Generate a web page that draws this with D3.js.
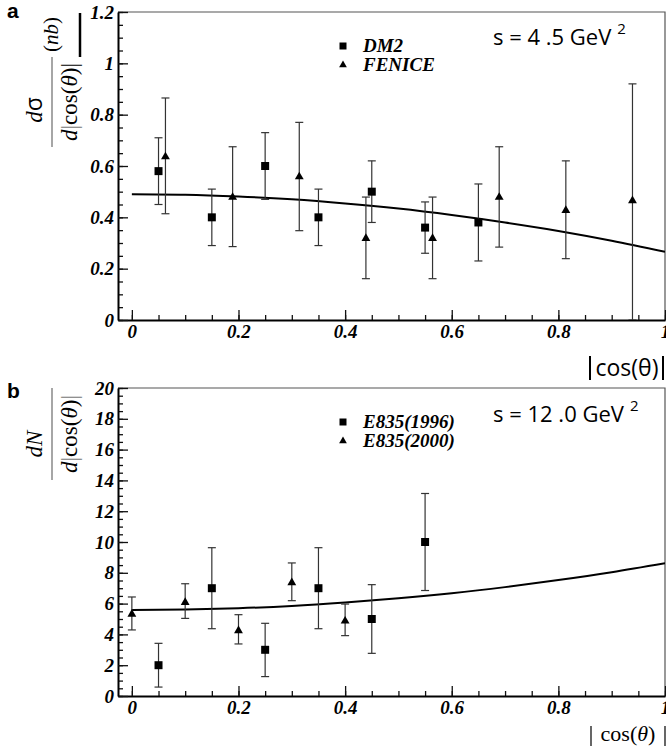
<!DOCTYPE html>
<html><head><meta charset="utf-8">
<script src="https://cdn.jsdelivr.net/npm/d3@7"></script>
<style>
body{margin:0;background:#fff}
.tick text{font-family:"Liberation Serif",serif;font-weight:bold;font-style:italic;font-size:19px;fill:#000}
.leg{font-family:"Liberation Serif",serif;font-weight:bold;font-style:italic;font-size:19px}
.sans{font-family:"Open Sans","Noto Sans",sans-serif}
.serif{font-family:"Liberation Serif",serif}
</style></head><body><div id="chart"></div>
<script>
// shared x axis
var xTicks=[0,0.2,0.4,0.6,0.8,1];
var xTickLabels=['0','0.2','0.4','0.6','0.8','1'];

// panel a : s = 4.5 GeV^2
var yTicksA=[0,0.2,0.4,0.6,0.8,1,1.2];
var yTickLabelsA=['0','0.2','0.4','0.6','0.8','1','1.2'];
var dm2X=[0.05,0.15,0.25,0.35,0.45,0.55,0.65];
var dm2Y=[0.58,0.40,0.60,0.40,0.50,0.36,0.38];
var dm2Lo=[0.45,0.29,0.47,0.29,0.38,0.26,0.23];
var dm2Hi=[0.71,0.51,0.73,0.51,0.62,0.46,0.53];
var fenX=[0.063,0.189,0.314,0.439,0.564,0.689,0.814,0.939];
var fenY=[0.636,0.478,0.558,0.318,0.318,0.478,0.427,0.465];
var fenLo=[0.414,0.286,0.348,0.161,0.161,0.284,0.239,0.0];
var fenHi=[0.865,0.675,0.770,0.479,0.479,0.675,0.620,0.920];
var fitAX=[0,0.1,0.2,0.3,0.4,0.5,0.6,0.7,0.8,0.9,1.0];
var fitAY=[0.490,0.488,0.481,0.470,0.454,0.434,0.409,0.380,0.347,0.309,0.266];

// panel b : s = 12.0 GeV^2
var yTicksB=[0,2,4,6,8,10,12,14,16,18,20];
var yTickLabelsB=['0','2','4','6','8','10','12','14','16','18','20'];
var e96X=[0.05,0.15,0.25,0.35,0.45,0.55];
var e96Y=[2.0,7.0,3.0,7.0,5.0,10.0];
var e96Lo=[0.58,4.37,1.26,4.37,2.77,6.85];
var e96Hi=[3.42,9.63,4.72,9.63,7.23,13.15];
var e00X=[0.0,0.1,0.2,0.3,0.4];
var e00Y=[5.32,6.08,4.24,7.36,4.87];
var e00Lo=[4.29,5.04,3.38,6.19,3.92];
var e00Hi=[6.43,7.29,5.28,8.64,5.97];
var fitBX=[0,0.1,0.2,0.3,0.4,0.5,0.6,0.7,0.8,0.9,1.0];
var fitBY=[5.58,5.61,5.70,5.85,6.07,6.34,6.67,7.07,7.53,8.04,8.62];

var svg=d3.select('#chart').append('svg').attr('width',666).attr('height',747);
var x=d3.scaleLinear().domain([-0.026,1]).range([118,665]);

function panel(o){
  var y=d3.scaleLinear().domain([0,o.yMax]).range([o.bottom,o.top]);
  var g=svg.append('g');
  svg.append('clipPath').attr('id','clip'+o.id).append('rect')
    .attr('x',118).attr('y',o.top).attr('width',547).attr('height',o.bottom-o.top);

  // frame top and right
  g.append('path').attr('d','M118,'+o.top+'H665V'+o.bottom)
    .attr('fill','none').attr('stroke','#555').attr('stroke-width',1.2);

  // x axis: minor then major
  g.append('g').attr('transform','translate(0,'+o.bottom+')')
    .call(d3.axisBottom(x).tickValues(d3.range(0,1.001,0.05)).tickSize(-5).tickSizeOuter(0).tickFormat(''));
  var xa=g.append('g').attr('transform','translate(0,'+o.bottom+')')
    .call(d3.axisBottom(x).tickValues(xTicks).tickSize(-10).tickSizeOuter(0).tickPadding(5)
      .tickFormat((d,i)=>xTickLabels[i]));
  xa.select('.domain').attr('stroke-width',2);

  // y axis
  g.append('g').attr('transform','translate(118,0)')
    .call(d3.axisLeft(y).tickValues(d3.range(0,o.yMax+1e-6,o.yMinor)).tickSize(-5).tickSizeOuter(0).tickFormat(''));
  var ya=g.append('g').attr('transform','translate(118,0)')
    .call(d3.axisLeft(y).tickValues(o.yTicks).tickSize(-10).tickSizeOuter(0).tickPadding(4)
      .tickFormat((d,i)=>o.yLabels[i]));
  ya.select('.domain').attr('stroke-width',2);
  g.selectAll('.tick line').attr('stroke','#111').attr('stroke-width',1.3);

  var plot=g.append('g').attr('clip-path','url(#clip'+o.id+')');

  // fit curve
  plot.append('path').datum(d3.zip(o.fitX,o.fitY))
    .attr('d',d3.line().x(d=>x(d[0])).y(d=>y(d[1])).curve(d3.curveMonotoneX))
    .attr('fill','none').attr('stroke','#000').attr('stroke-width',2);

  // error bars and markers
  o.series.forEach(function(s){
    var pts=s.x.map((v,i)=>({x:v,y:s.y[i],lo:s.lo[i],hi:s.hi[i]}));
    var pg=plot.selectAll(null).data(pts).enter().append('g');
    pg.append('line').attr('x1',d=>x(d.x)).attr('x2',d=>x(d.x))
      .attr('y1',d=>y(d.lo)).attr('y2',d=>y(d.hi)).attr('stroke','#333').attr('stroke-width',1.2);
    pg.append('line').attr('x1',d=>x(d.x)-4).attr('x2',d=>x(d.x)+4)
      .attr('y1',d=>y(d.hi)).attr('y2',d=>y(d.hi)).attr('stroke','#333').attr('stroke-width',1.2);
    pg.append('line').attr('x1',d=>x(d.x)-4).attr('x2',d=>x(d.x)+4)
      .attr('y1',d=>y(d.lo)).attr('y2',d=>y(d.lo)).attr('stroke','#333').attr('stroke-width',1.2);
    pg.append('path').attr('transform',d=>'translate('+x(d.x)+','+y(d.y)+')')
      .attr('d',d3.symbol().type(s.shape=='sq'?d3.symbolSquare:d3.symbolTriangle).size(s.shape=='sq'?64:34)())
      .attr('fill','#000');
  });

  // legend
  o.series.forEach(function(s,i){
    var ly=o.legY+i*19;
    g.append('path').attr('transform','translate(343,'+(ly-(s.shape=='sq'?6:6))+')')
      .attr('d',d3.symbol().type(s.shape=='sq'?d3.symbolSquare:d3.symbolTriangle).size(s.shape=='sq'?49:26)())
      .attr('fill','#000');
    g.append('text').attr('class','leg').attr('x',363).attr('y',ly).text(s.name);
  });

  // energy
  var et=g.append('text').attr('class','sans').attr('x',493).attr('y',o.sY)
    .attr('font-size',22).attr('xml:space','preserve').text(o.sText);
  et.append('tspan').attr('dx',6).attr('dy',-11).attr('font-size',15).text('2');

  // panel letter
  g.append('text').attr('x',7).attr('y',o.letterY).attr('font-family','Liberation Sans, Arial, sans-serif')
    .attr('font-weight','bold').attr('font-size',21).text(o.letter);
  return y;
}

panel({id:'a',top:12,bottom:320,yMax:1.2,yMinor:0.05,yTicks:yTicksA,yLabels:yTickLabelsA,
  fitX:fitAX,fitY:fitAY,legY:52,sY:45,sText:'s = 4 .5 GeV',letter:'a',letterY:18,
  series:[{name:'DM2',shape:'sq',x:dm2X,y:dm2Y,lo:dm2Lo,hi:dm2Hi},
          {name:'FENICE',shape:'tri',x:fenX,y:fenY,lo:fenLo,hi:fenHi}]});
panel({id:'b',top:388,bottom:696,yMax:20,yMinor:0.5,yTicks:yTicksB,yLabels:yTickLabelsB,
  fitX:fitBX,fitY:fitBY,legY:428,sY:422,sText:'s = 12 .0 GeV',letter:'b',letterY:398,
  series:[{name:'E835(1996)',shape:'sq',x:e96X,y:e96Y,lo:e96Lo,hi:e96Hi},
          {name:'E835(2000)',shape:'tri',x:e00X,y:e00Y,lo:e00Lo,hi:e00Hi}]});

// x titles
svg.append('text').attr('class','sans').attr('x',627).attr('y',376).attr('text-anchor','middle')
  .attr('font-size',23).text('cos(θ)');
[590,663].forEach(v=>svg.append('line').attr('x1',v).attr('x2',v).attr('y1',356).attr('y2',380)
  .attr('stroke','#000').attr('stroke-width',2));
var tb=svg.append('text').attr('class','serif').attr('x',628).attr('y',741).attr('text-anchor','middle')
  .attr('font-size',22);
tb.append('tspan').text('cos(');
tb.append('tspan').attr('font-style','italic').text('θ');
tb.append('tspan').text(')');
[591,665].forEach(v=>svg.append('line').attr('x1',v).attr('x2',v).attr('y1',726).attr('y2',746)
  .attr('stroke','#000').attr('stroke-width',1.2));

// y title a
var la=svg.append('g').attr('transform','translate(0,102) rotate(-90)');
var na=la.append('text').attr('class','serif').attr('x',-8).attr('y',42).attr('text-anchor','middle').attr('font-size',23);
na.append('tspan').attr('font-style','italic').text('d');
na.append('tspan').attr('class','sans').text('σ');
la.append('line').attr('x1',-45).attr('x2',45).attr('y1',52).attr('y2',52).attr('stroke','#888').attr('stroke-width',1.5);
var da=la.append('text').attr('class','serif').attr('x',0).attr('y',77).attr('text-anchor','middle').attr('font-size',23);
da.append('tspan').attr('font-style','italic').text('d');
da.append('tspan').attr('fill','#777').text('|');
da.append('tspan').text('cos(');
da.append('tspan').attr('font-style','italic').text('θ');
da.append('tspan').text(')|');
var nb=la.append('text').attr('class','serif').attr('x',50).attr('y',58).attr('font-size',21);
nb.append('tspan').text('(');
nb.append('tspan').attr('font-style','italic').text('nb');
nb.append('tspan').text(')');
la.append('line').attr('x1',45).attr('x2',89).attr('y1',80).attr('y2',80).attr('stroke','#000').attr('stroke-width',2.5);

// y title b
var lb=svg.append('g').attr('transform','translate(0,434) rotate(-90)');
lb.append('text').attr('class','serif').attr('x',-10).attr('y',42).attr('text-anchor','middle')
  .attr('font-size',23).attr('font-style','italic').text('dN');
lb.append('line').attr('x1',-46).attr('x2',46).attr('y1',52).attr('y2',52).attr('stroke','#888').attr('stroke-width',1.5);
var db=lb.append('text').attr('class','serif').attr('x',0).attr('y',77).attr('text-anchor','middle').attr('font-size',23);
db.append('tspan').attr('font-style','italic').text('d');
db.append('tspan').attr('fill','#777').text('|');
db.append('tspan').text('cos(');
db.append('tspan').attr('font-style','italic').text('θ');
db.append('tspan').text(')');
db.append('tspan').attr('fill','#777').text('|');
</script></body></html>
